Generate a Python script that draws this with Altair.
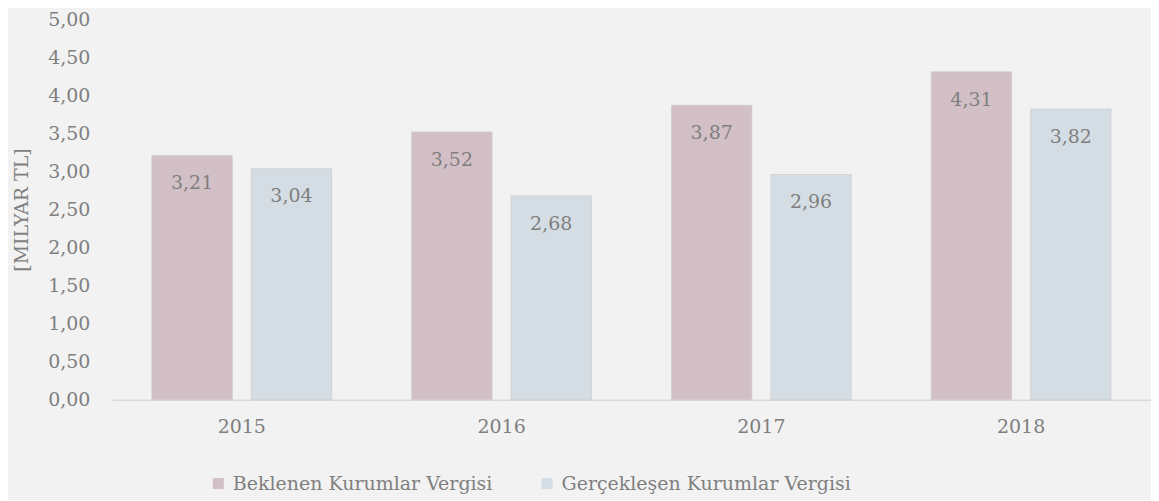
import altair as alt
import pandas as pd

years = ["2015", "2016", "2017", "2018"]
series = ["Beklenen Kurumlar Vergisi", "Gerçekleşen Kurumlar Vergisi"]
beklenen = [3.21, 3.52, 3.87, 4.31]
gerceklesen = [3.04, 2.68, 2.96, 3.82]

rows = []
for i, y in enumerate(years):
    rows.append({"Yil": y, "Seri": series[0], "Deger": beklenen[i]})
    rows.append({"Yil": y, "Seri": series[1], "Deger": gerceklesen[i]})
df = pd.DataFrame(rows)
df["Etiket"] = df["Deger"].map(lambda v: f"{v:.2f}".replace(".", ","))

FONT = "DejaVu Serif"
GRAY = "#7f7f7f"

x = alt.X("Yil:N", title=None,
          scale=alt.Scale(paddingInner=0.3077, paddingOuter=0.1538),
          axis=alt.Axis(labelAngle=0, ticks=False, domainColor="#d9d9d9", domainWidth=1.5,
                        labelFont=FONT, labelFontSize=19, labelColor=GRAY, labelPadding=18))
xo = alt.XOffset("Seri:N", sort=series, scale=alt.Scale(paddingInner=0.19, paddingOuter=0))
y = alt.Y("Deger:Q", title="[MILYAR TL]",
          scale=alt.Scale(domain=[0, 5]),
          axis=alt.Axis(values=[i * 0.5 for i in range(11)], grid=False, ticks=False, domain=False,
                        labelExpr="replace(format(datum.value, '.2f'), '.', ',')",
                        labelFont=FONT, labelFontSize=19, labelColor=GRAY, labelPadding=22,
                        titleFont=FONT, titleFontSize=19, titleColor=GRAY, titleFontWeight="normal",
                        titleX=-90, titleBaseline="middle"))

color = alt.Color("Seri:N", sort=series,
                  scale=alt.Scale(domain=series, range=["#d3c0c6", "#d5dde4"]),
                  legend=alt.Legend(title=None, orient="none", direction="horizontal",
                                    legendX=97, legendY=455,
                                    symbolType="square", symbolSize=121, symbolStrokeWidth=0,
                                    labelFont=FONT, labelFontSize=19, labelColor=GRAY,
                                    labelLimit=0, columnPadding=44, labelOffset=5))

base = alt.Chart(df)
bars = base.mark_bar(stroke="#c9c9c9", strokeWidth=0.6).encode(x=x, xOffset=xo, y=y, color=color)
labels = base.mark_text(font=FONT, fontSize=19, color=GRAY, baseline="middle", dy=28).encode(
    x=x, xOffset=xo, y=y, text="Etiket:N")

chart = (bars + labels).properties(
    width=1040, height=381, background="#f2f2f2",
    autosize=alt.AutoSizeParams(type="none"),
    padding={"left": 104, "top": 11, "right": 0, "bottom": 100},
).configure_view(stroke=None)

chart.save("out.html", embed_options={"renderer": "svg", "actions": False})
